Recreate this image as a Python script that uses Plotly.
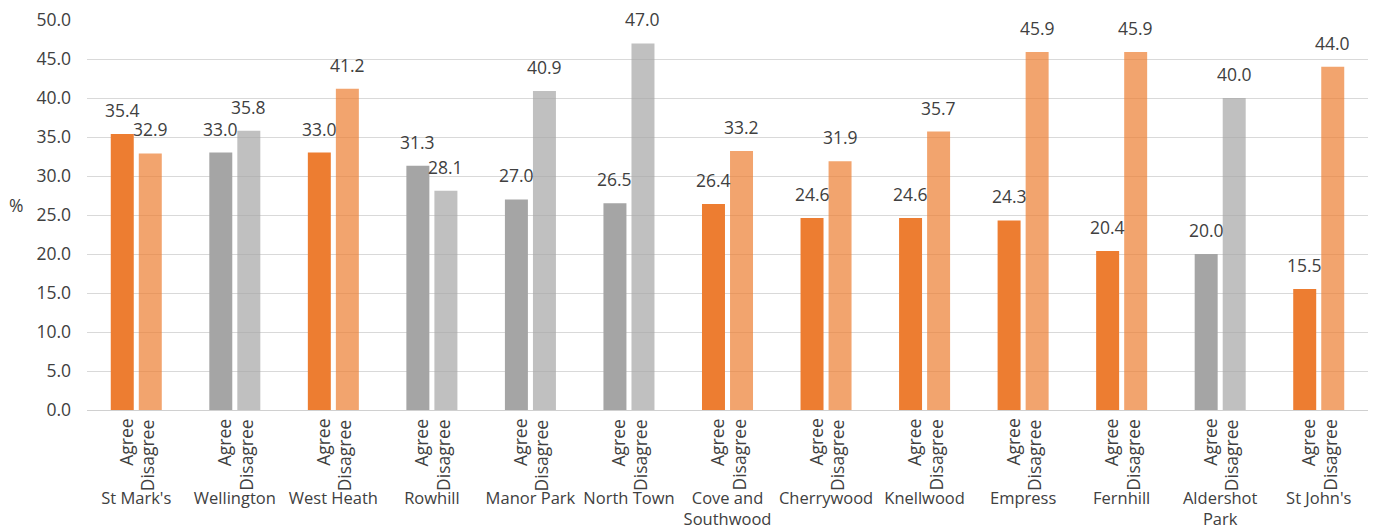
import plotly.graph_objects as go

wards = ["St Mark's", "Wellington", "West Heath", "Rowhill", "Manor Park", "North Town",
         "Cove and<br>Southwood", "Cherrywood", "Knellwood", "Empress", "Fernhill",
         "Aldershot<br>Park", "St John's"]
agree = [35.4, 33.0, 33.0, 31.3, 27.0, 26.5, 26.4, 24.6, 24.6, 24.3, 20.4, 20.0, 15.5]
disagree = [32.9, 35.8, 41.2, 28.1, 40.9, 47.0, 33.2, 31.9, 35.7, 45.9, 45.9, 40.0, 44.0]
group_kind = ["orange", "gray", "orange", "gray", "gray", "gray", "orange", "orange",
              "orange", "orange", "orange", "gray", "orange"]
sub_labels = ["Agree", "Disagree"]
y_ticks = [0, 5, 10, 15, 20, 25, 30, 35, 40, 45, 50]

agree_colors = {"orange": "rgba(237,125,49,1)", "gray": "rgba(165,165,165,1)"}
disagree_colors = {"orange": "rgba(237,125,49,0.7)", "gray": "rgba(165,165,165,0.7)"}

FONT = "Open Sans"
TXT = "#404040"
FS = 17.5

fig = go.Figure()
fig.add_trace(go.Bar(x=wards, y=agree, name="Agree",
                     marker=dict(color=[agree_colors[k] for k in group_kind], line=dict(width=0))))
fig.add_trace(go.Bar(x=wards, y=disagree, name="Disagree",
                     marker=dict(color=[disagree_colors[k] for k in group_kind], line=dict(width=0))))

annotations = []
for w, a, d in zip(wards, agree, disagree):
    for val, shift in ((a, -14), (d, 14)):
        annotations.append(dict(x=w, y=val, xref="x", yref="y", text=f"{val:.1f}",
                                showarrow=False, xshift=shift, yshift=10, yanchor="bottom",
                                font=dict(family=FONT, size=FS, color=TXT)))
    for lab, shift in zip(sub_labels, (-11, 11)):
        annotations.append(dict(x=w, y=0, xref="x", yref="paper", text=lab, textangle=-90,
                                showarrow=False, xshift=shift, yshift=-7, yanchor="top",
                                xanchor="center",
                                font=dict(family=FONT, size=FS, color=TXT)))

annotations.append(dict(x=-0.0625, y=0.526, xref="paper", yref="paper", text="%",
                        showarrow=False, font=dict(family=FONT, size=FS, color=TXT)))

fig.update_layout(
    width=1379, height=529,
    margin=dict(l=87, r=11, t=20, b=119, autoexpand=False),
    paper_bgcolor="white", plot_bgcolor="white",
    barmode="group", bargap=0.431, bargroupgap=0.18,
    showlegend=False,
    font=dict(family=FONT, size=FS, color=TXT),
    annotations=annotations,
)
fig.update_xaxes(showgrid=False, showline=True, linecolor="#D0D0D0", linewidth=1,
                 ticks="", automargin=False, ticklabelstandoff=73, tickangle=0,
                 tickfont=dict(family=FONT, size=16.5, color=TXT))
fig.update_yaxes(range=[0, 50], tickvals=y_ticks, tickformat=".1f", showgrid=True,
                 gridcolor="#D9D9D9", gridwidth=1, zeroline=False, showline=False,
                 ticks="", automargin=False, ticklabelstandoff=15,
                 tickfont=dict(family=FONT, size=FS, color=TXT))

fig.write_html("out.html", config={"displayModeBar": False},
               post_script="document.body.style.margin='0';")
